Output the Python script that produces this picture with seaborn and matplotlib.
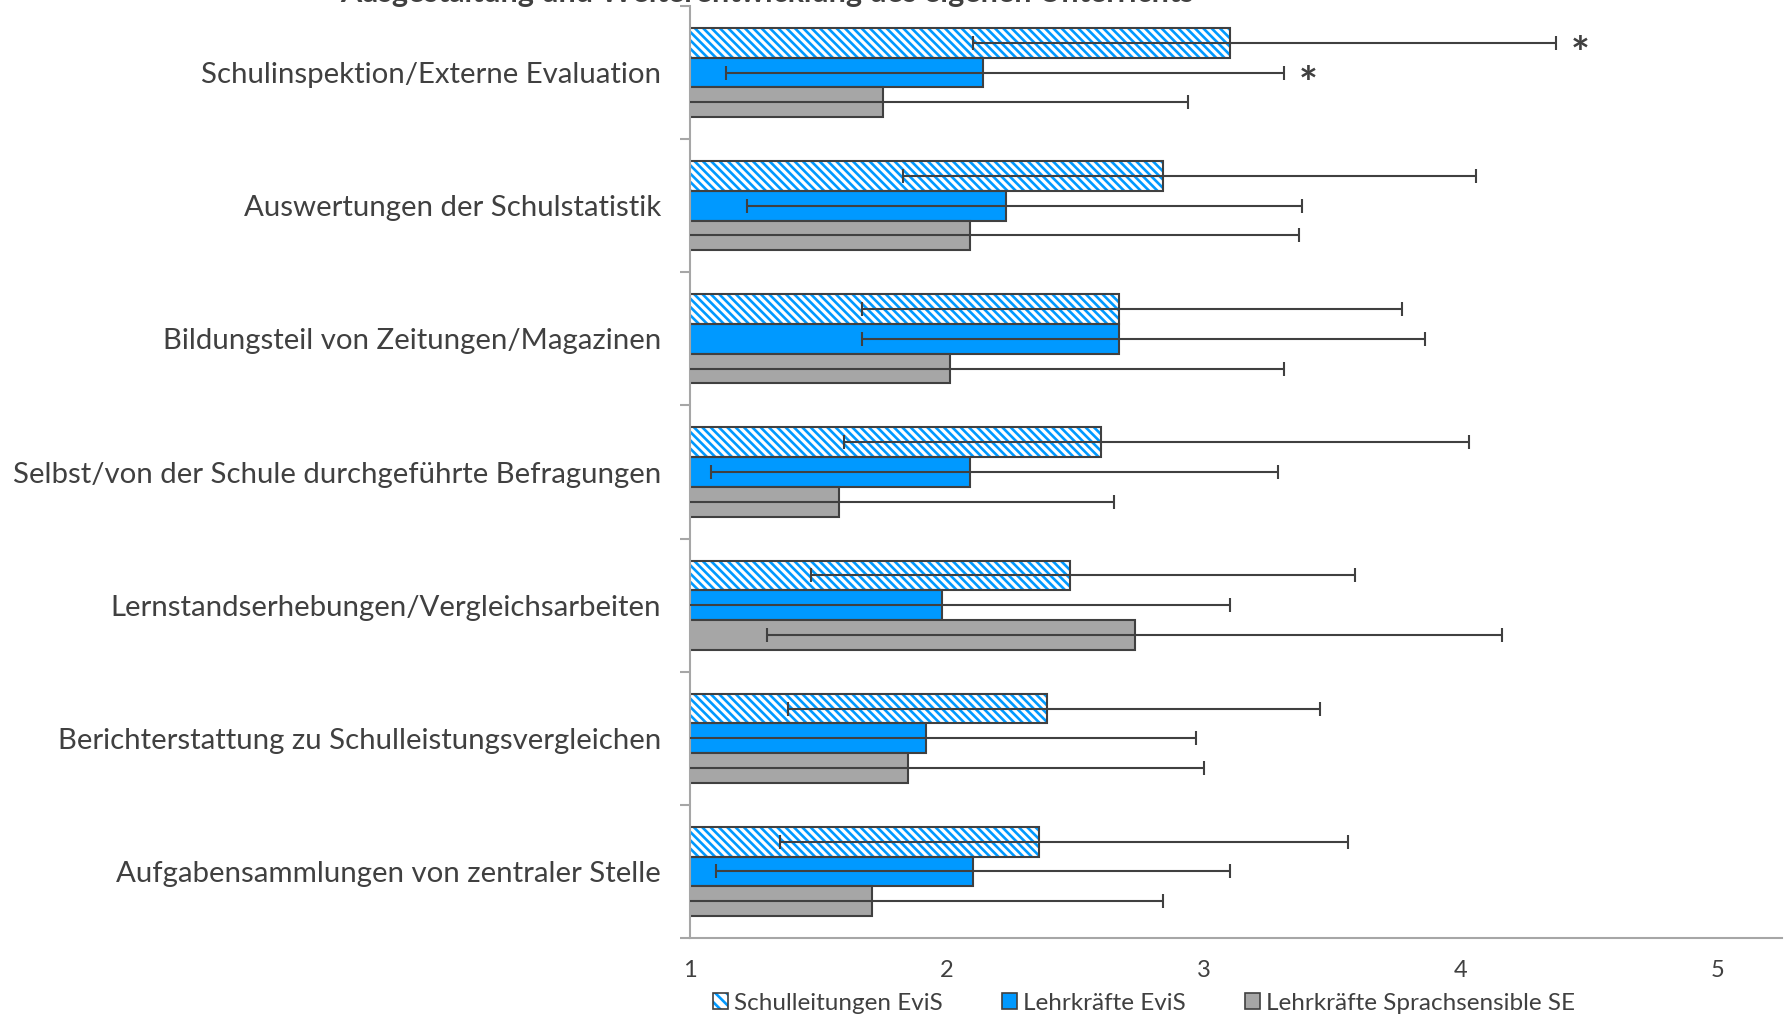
import matplotlib
matplotlib.use("Agg")
import matplotlib.pyplot as plt
import matplotlib.colors as mcolors
from matplotlib.patches import Patch, Rectangle
import pandas as pd
import seaborn as sns

# ---- data -------------------------------------------------------------
categories = [
    "Schulinspektion/Externe Evaluation",
    "Auswertungen der Schulstatistik",
    "Bildungsteil von Zeitungen/Magazinen",
    "Selbst/von der Schule durchgeführte Befragungen",
    "Lernstandserhebungen/Vergleichsarbeiten",
    "Berichterstattung zu Schulleistungsvergleichen",
    "Aufgabensammlungen von zentraler Stelle",
]
groups = ["Schulleitungen EviS", "Lehrkräfte EviS", "Lehrkräfte Sprachsensible SE"]

# means and error-bar end points (low / high) per group
sl_mean = [3.10, 2.84, 2.67, 2.60, 2.48, 2.39, 2.36]
sl_lo = [2.10, 1.83, 1.67, 1.60, 1.47, 1.38, 1.35]
sl_hi = [4.37, 4.06, 3.77, 4.03, 3.59, 3.45, 3.56]

lk_mean = [2.14, 2.23, 2.67, 2.09, 1.98, 1.92, 2.10]
lk_lo = [1.14, 1.22, 1.67, 1.08, 0.86, 0.87, 1.10]
lk_hi = [3.31, 3.38, 3.86, 3.29, 3.10, 2.97, 3.10]

se_mean = [1.75, 2.09, 2.01, 1.58, 2.73, 1.85, 1.71]
se_lo = [0.56, 0.80, 0.71, 0.50, 1.30, 0.70, 0.57]
se_hi = [2.94, 3.37, 3.31, 2.65, 4.16, 3.00, 2.84]

# significant differences: (category index, group index)
significant = [(0, 0), (0, 1)]

x_ticks = [1, 2, 3, 4, 5]
title = "Ausgestaltung und Weiterentwicklung des eigenen Unterrichts"

# ---- style ------------------------------------------------------------
BLUE = "#0099FF"
GREY = "#A6A6A6"
EDGE = "#404040"
TEXT = "#404040"
AXIS = "#A6A6A6"
HATCH = "\\\\\\\\"

sns.set_style("white")
plt.rcParams["font.family"] = ["Lato", "DejaVu Sans"]
plt.rcParams["hatch.linewidth"] = 1.9

means = [sl_mean, lk_mean, se_mean]
lows = [sl_lo, lk_lo, se_lo]
highs = [sl_hi, lk_hi, se_hi]

df = pd.DataFrame(
    [
        {"Bereich": c, "Gruppe": g, "Mittelwert": v}
        for g, m in zip(groups, means)
        for c, v in zip(categories, m)
    ]
)

fig = plt.figure(figsize=(17.89, 10.17), dpi=100)
ax = fig.add_axes([690 / 1789, 1 - 938 / 1017, (1782 - 690) / 1789, (938 - 6) / 1017])

palette = ["#FFFFFF", BLUE, GREY]
sns.barplot(
    data=df, y="Bereich", x="Mittelwert", hue="Gruppe",
    order=categories, hue_order=groups, palette=palette, saturation=1,
    orient="h", width=0.67, errorbar=None, edgecolor=EDGE, linewidth=1.5,
    legend=False, ax=ax,
)

# locate each bar by colour and category row
hex_to_group = {mcolors.to_hex(c): j for j, c in enumerate(palette)}
centers = [[None] * len(categories) for _ in groups]
for p in list(ax.patches):
    j = hex_to_group.get(mcolors.to_hex(p.get_facecolor()))
    if j is None:
        continue
    yc = p.get_y() + p.get_height() / 2
    centers[j][int(round(yc))] = yc
    if j == 0:
        # striped fill, outline drawn on top
        p.set_hatch(HATCH)
        p.set_edgecolor(BLUE)
        p.set_linewidth(0)
        ax.add_patch(Rectangle((p.get_x(), p.get_y()), p.get_width(), p.get_height(),
                               fill=False, edgecolor=EDGE, linewidth=1.5,
                               zorder=p.get_zorder() + 0.1))

for j in range(len(groups)):
    m, lo, hi = means[j], lows[j], highs[j]
    xerr = [[mv - l for mv, l in zip(m, lo)], [h - mv for mv, h in zip(m, hi)]]
    ax.errorbar(m, centers[j], xerr=xerr, fmt="none", ecolor=EDGE,
                elinewidth=1.5, capsize=5, capthick=1.5, zorder=5)

for ci, gj in significant:
    ax.annotate("*", xy=(highs[gj][ci], centers[gj][ci]), xytext=(11, -18),
                textcoords="offset points", fontsize=32, fontweight="bold",
                color=TEXT, ha="left", va="baseline")

# ---- axes -------------------------------------------------------------
ax.set_xlim(1, 5.25)
ax.set_ylim(len(categories) - 0.5, -0.5)
ax.set_xticks(x_ticks)
ax.set_xticklabels([str(t) for t in x_ticks])
ax.set_yticks(range(len(categories)))
ax.set_yticklabels(categories)
ax.set_yticks([i - 0.5 for i in range(len(categories) + 1)], minor=True)
ax.set_xlabel("")
ax.set_ylabel("")

ax.tick_params(axis="x", direction="in", length=7, width=1.5, color=AXIS,
               pad=16, labelsize=17, labelcolor=TEXT)
ax.tick_params(axis="y", which="major", length=0, pad=21, labelsize=21.2,
               labelcolor=TEXT)
ax.tick_params(axis="y", which="minor", direction="out", length=7, width=1.5,
               color=AXIS, left=True)

for side in ("top", "right"):
    ax.spines[side].set_visible(False)
for side in ("left", "bottom"):
    ax.spines[side].set_color(AXIS)
    ax.spines[side].set_linewidth(1.5)

fig.text(340 / 1789, 1 - 2 / 1017, title, ha="left", va="baseline",
         fontsize=22, fontweight="bold", color=TEXT)

handles = [
    (Patch(facecolor="white", edgecolor=BLUE, hatch="\\\\\\", linewidth=0),
     Patch(fill=False, edgecolor=EDGE, linewidth=1.2)),
    Patch(facecolor=BLUE, edgecolor=EDGE, linewidth=1.2),
    Patch(facecolor=GREY, edgecolor=EDGE, linewidth=1.2),
]
fig.legend(handles, groups, loc="center", bbox_to_anchor=(1144 / 1789, 1 - 1003 / 1017),
           ncol=3, frameon=False, fontsize=17.5, handlelength=0.6, handleheight=0.6,
           handletextpad=0.25, columnspacing=2.45, labelcolor=TEXT)

fig.savefig("out.png", dpi=100)
